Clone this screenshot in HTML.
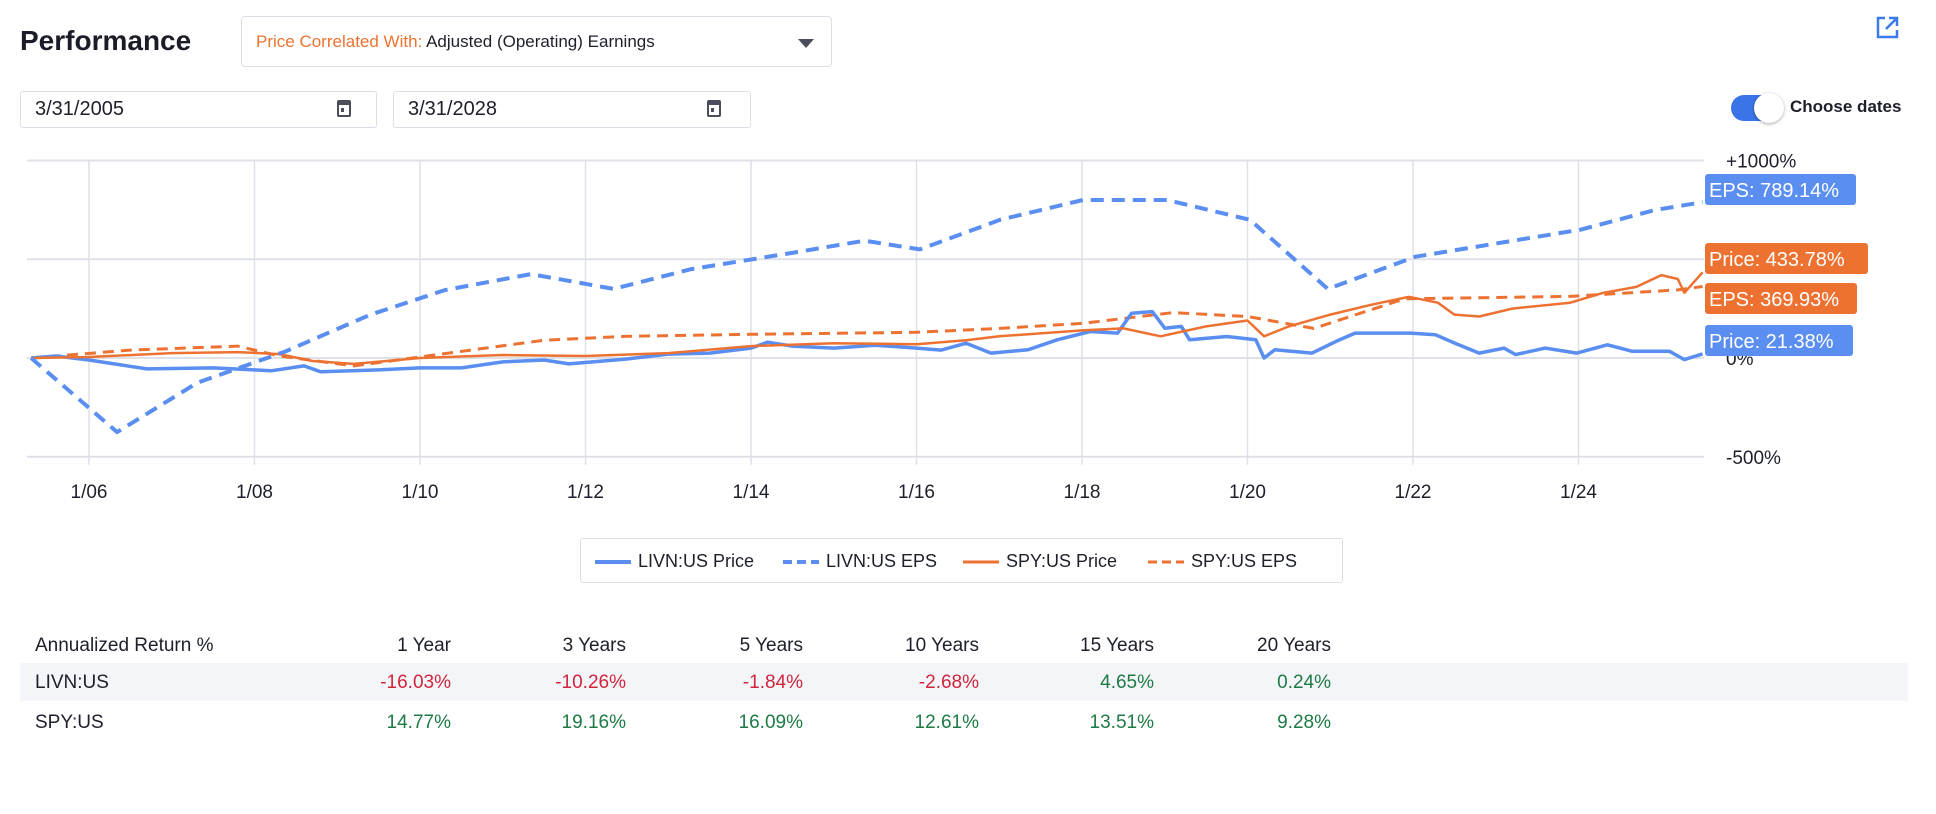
<!DOCTYPE html>
<html><head><meta charset="utf-8">
<style>
body{margin:0;width:1936px;height:814px;background:#fff;font-family:"Liberation Sans",Arial,sans-serif;color:#1d1f2b;position:relative;overflow:hidden}
.abs{position:absolute}
.title{left:20px;top:25px;font-size:28px;font-weight:bold;color:#1a1c28}
.dd{left:241px;top:16px;width:591px;height:51px;border:1px solid #dcdee6;border-radius:4px;box-sizing:border-box;font-size:17px;line-height:49px;padding-left:14px}
.dd .o{color:#ec7330}
.dd .arr{position:absolute;right:17px;top:22px;width:0;height:0;border-left:8px solid transparent;border-right:8px solid transparent;border-top:9px solid #4a4d5c}
.inp{top:91px;height:37px;border:1px solid #dcdee6;border-radius:3px;box-sizing:border-box;font-size:20px;line-height:35px;padding-left:14px}
.cal{position:absolute;top:8px;width:14px;height:17px;border:2.5px solid #4a4d5c;border-top-width:5px;border-radius:2px;box-sizing:border-box}
.cal:after{content:"";position:absolute;left:2px;top:3px;width:3px;height:4px;background:#4a4d5c}
.tbl{font-size:19px}
.tbl div{position:absolute}
.r{text-align:right;width:140px}
.red{color:#d0263c}.grn{color:#1e7a45}
</style></head><body>
<div class="abs title">Performance</div>
<div class="abs dd"><span class="o">Price Correlated With:</span> Adjusted (Operating) Earnings<span class="arr"></span></div>
<svg class="abs" style="left:1874px;top:15px" width="26" height="26"><path d="M11 3H4v19h19v-7" fill="none" stroke="#3b7ae8" stroke-width="2.5"/><path d="M15 3h8v8M23 3L12 14" fill="none" stroke="#3b7ae8" stroke-width="2.5"/></svg>
<div class="abs inp" style="left:20px;width:357px">3/31/2005<span class="cal" style="left:316px"></span></div>
<div class="abs inp" style="left:393px;width:358px">3/31/2028<span class="cal" style="left:313px"></span></div>
<div class="abs" style="left:1731px;top:95px;width:52px;height:26px;border-radius:13px;background:#3b74e8"><div style="position:absolute;right:-1px;top:-2px;width:30px;height:30px;border-radius:15px;background:#fff;box-shadow:0 1px 3px rgba(0,0,0,.35)"></div></div>
<div class="abs" style="left:1790px;top:97px;font-size:17px;font-weight:bold">Choose dates</div>

<svg id="chart" class="abs" style="left:0;top:0" width="1936" height="600"></svg>

<div class="abs" style="left:580px;top:538px;width:763px;height:45px;border:1px solid #dcdee6;border-radius:3px;box-sizing:border-box;font-size:18px">
<div class="abs" style="left:12px;top:12px"><svg width="40" height="20" style="vertical-align:middle"><line x1="2" y1="10" x2="38" y2="10" stroke="#5a8ef0" stroke-width="4"/></svg> LIVN:US Price</div>
<div class="abs" style="left:200px;top:12px"><svg width="40" height="20" style="vertical-align:middle"><line x1="2" y1="10" x2="38" y2="10" stroke="#5a8ef0" stroke-width="4" stroke-dasharray="9,5"/></svg> LIVN:US EPS</div>
<div class="abs" style="left:380px;top:12px"><svg width="40" height="20" style="vertical-align:middle"><line x1="2" y1="10" x2="38" y2="10" stroke="#ed7232" stroke-width="3"/></svg> SPY:US Price</div>
<div class="abs" style="left:565px;top:12px"><svg width="40" height="20" style="vertical-align:middle"><line x1="2" y1="10" x2="38" y2="10" stroke="#ed7232" stroke-width="3" stroke-dasharray="9,5"/></svg> SPY:US EPS</div>
</div>

<div class="abs tbl" style="left:0;top:0;width:1936px;height:814px">
<div style="left:20px;top:663px;width:1888px;height:38px;background:#f4f5f9"></div>
<div style="left:35px;top:635px">Annualized Return %</div>
<div class="r" style="left:311px;top:635px">1 Year</div><div class="r" style="left:486px;top:635px">3 Years</div><div class="r" style="left:663px;top:635px">5 Years</div><div class="r" style="left:839px;top:635px">10 Years</div><div class="r" style="left:1014px;top:635px">15 Years</div><div class="r" style="left:1191px;top:635px">20 Years</div>
<div style="left:35px;top:672px">LIVN:US</div>
<div class="r red" style="left:311px;top:672px">-16.03%</div><div class="r red" style="left:486px;top:672px">-10.26%</div><div class="r red" style="left:663px;top:672px">-1.84%</div><div class="r red" style="left:839px;top:672px">-2.68%</div><div class="r grn" style="left:1014px;top:672px">4.65%</div><div class="r grn" style="left:1191px;top:672px">0.24%</div>
<div style="left:35px;top:712px">SPY:US</div>
<div class="r grn" style="left:311px;top:712px">14.77%</div><div class="r grn" style="left:486px;top:712px">19.16%</div><div class="r grn" style="left:663px;top:712px">16.09%</div><div class="r grn" style="left:839px;top:712px">12.61%</div><div class="r grn" style="left:1014px;top:712px">13.51%</div><div class="r grn" style="left:1191px;top:712px">9.28%</div>
</div>

<script>
const xTickYears=[2006,2008,2010,2012,2014,2016,2018,2020,2022,2024];
const xTickLabels=["1/06","1/08","1/10","1/12","1/14","1/16","1/18","1/20","1/22","1/24"];
const yTicks=[1000,500,0,-500];
const yTickLabels=["+1000%","","0%","-500%"];
const livnEpsYears=[2005.3,2006.34,2007.31,2008.36,2009.4,2010.3,2011.34,2012.34,2013.28,2014.48,2015.37,2016.04,2017.01,2018.01,2019.03,2020.03,2020.97,2022.03,2024.03,2024.93,2025.5];
const livnEpsValues=[0,-375,-125,31,219,344,425,350,450,531,594,550,700,800,800,700,350,513,650,750,789];
const spyEpsYears=[2005.3,2006.5,2007.8,2008.3,2009.2,2011.5,2012.5,2014,2016,2017,2018,2019.1,2020,2020.8,2021.9,2023.9,2025.2,2025.5];
const spyEpsValues=[0,40,60,10,-40,90,110,120,130,150,175,230,210,150,300,312,345,362];
const livnPriceYears=[2005.3,2005.6,2006,2006.7,2007.5,2008,2008.2,2008.6,2008.8,2009.5,2010,2010.5,2011,2011.5,2011.8,2012.5,2013,2013.5,2014,2014.2,2014.5,2015,2015.5,2016,2016.3,2016.6,2016.9,2017.35,2017.7,2018.1,2018.43,2018.6,2018.85,2019,2019.2,2019.3,2019.75,2020.1,2020.2,2020.33,2020.78,2021.07,2021.3,2021.97,2022.27,2022.5,2022.8,2023.1,2023.24,2023.6,2023.98,2024.35,2024.65,2025.1,2025.28,2025.5];
const livnPriceValues=[0,10,-10,-55,-50,-60,-65,-40,-70,-60,-50,-50,-20,-10,-30,-5,20,25,50,80,60,50,65,50,40,75,25,42,92,134,126,227,235,151,160,92,109,92,0,42,25,84,126,126,118,76,25,50,17,50,25,67,34,34,-8,21];
const spyPriceYears=[2005.3,2006,2007,2007.8,2008.3,2008.7,2009.2,2010,2011,2012,2013,2014,2015,2016,2016.6,2017,2018,2018.5,2018.95,2019.5,2020,2020.2,2020.5,2021,2021.5,2021.95,2022.3,2022.5,2022.8,2023.2,2023.9,2024.3,2024.7,2025,2025.2,2025.28,2025.5];
const spyPriceValues=[0,5,25,30,20,-15,-30,0,15,10,25,60,75,70,90,110,140,150,110,160,190,110,160,220,270,310,280,220,210,250,280,330,360,420,400,330,434];

const NS="http://www.w3.org/2000/svg";
const svg=document.getElementById('chart');
const xPx=y=>89+(y-2006)*82.75;
const yPx=v=>358-v*0.1975;
function mk(t,a){const e=document.createElementNS(NS,t);for(const k in a)e.setAttribute(k,a[k]);svg.appendChild(e);return e;}
yTicks.forEach((v,i)=>{
  const l=mk('line',{x1:27,x2:1704,y1:yPx(v),y2:yPx(v),stroke:'#dfe1e8','stroke-width':2});
  
  
  if(yTickLabels[i]){const t=mk('text',{x:1726,y:yPx(v)+7,'font-size':19,fill:'#1d1f2b'});t.textContent=yTickLabels[i];
  
  }
});
xTickYears.forEach((yr,i)=>{
  const l=mk('line',{x1:xPx(yr),x2:xPx(yr),y1:yPx(1000),y2:yPx(-500)+8,stroke:'#dfe1e8','stroke-width':1.5});
  
  
  const t=mk('text',{x:xPx(yr),y:498,'font-size':19,fill:'#1d1f2b','text-anchor':'middle'});t.textContent=xTickLabels[i];
  
  
});
function line(xs,vs,color,w,dash,name){
  const p=xs.map((x,i)=>(i?'L':'M')+xPx(x).toFixed(1)+','+yPx(vs[i]).toFixed(1)).join('');
  const e=mk('path',{d:p,fill:'none',stroke:color,'stroke-width':w,'stroke-linejoin':'round'});
  if(dash)e.setAttribute('stroke-dasharray',dash);
  
  
}
line(spyEpsYears,spyEpsValues,'#ed7232',3,'11,7','spy-eps-line');
line(livnPriceYears,livnPriceValues,'#5a8ef0',3.5,null,'livn-price-line');
line(spyPriceYears,spyPriceValues,'#ed7232',2.5,null,'spy-price-line');
line(livnEpsYears,livnEpsValues,'#5a8ef0',4,'13,8','livn-eps-line');
const tags=[["EPS: 789.14%",174,151,'#5a8ef0','livn-eps-tag'],["Price: 433.78%",243,163,'#ed7232','spy-price-tag'],["EPS: 369.93%",283,152,'#ed7232','spy-eps-tag'],["Price: 21.38%",325,148,'#5a8ef0','livn-price-tag']];
tags.forEach(t=>{
  const r=mk('rect',{x:1705,y:t[1],width:t[2],height:31,rx:3,fill:t[3]});
  
  
  const tx=mk('text',{x:1709,y:t[1]+23,'font-size':20,fill:'#fff'});tx.textContent=t[0];
  
  
});
</script>
</body></html>
